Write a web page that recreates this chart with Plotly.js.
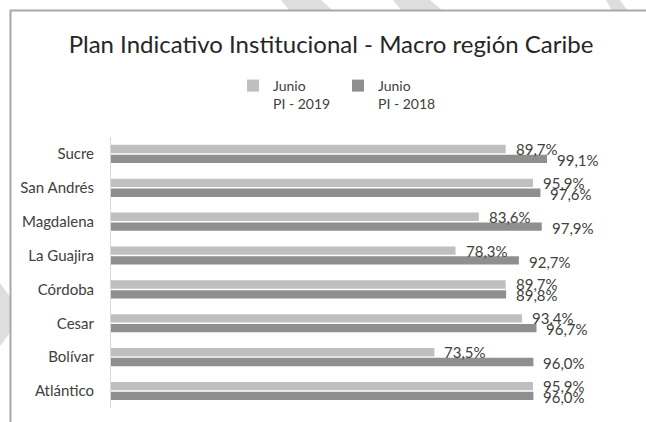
<!DOCTYPE html>
<html>
<head>
<meta charset="utf-8">
<script src="https://cdn.plot.ly/plotly-3.0.1.min.js"></script>
<style>html,body{margin:0;padding:0;background:#fff;}#chart{width:646px;height:422px;}</style>
</head>
<body>
<div id="chart"></div>
<script>
const categories = ["Atlántico", "Bolívar", "Cesar", "Córdoba", "La Guajira", "Magdalena", "San Andrés", "Sucre"];
const pi2019 = [95.9, 73.5, 93.4, 89.7, 78.3, 83.6, 95.9, 89.7];
const pi2018 = [96.0, 96.0, 96.7, 89.8, 92.7, 97.9, 97.6, 99.1];
const seriesNames = ["Junio<br>PI - 2019", "Junio<br>PI - 2018"];
const chartTitle = "Plan Indicativo Institucional - Macro región Caribe";

const W = 646, H = 422;
const px = v => v / W;
const py = v => 1 - v / H;
const FONT = "Lato, 'Liberation Sans', sans-serif";

const traces = [
  {type: "bar", orientation: "h", name: seriesNames[1], y: categories, x: pi2018,
   marker: {color: "#8f8f8f"}, hoverinfo: "none"},
  {type: "bar", orientation: "h", name: seriesNames[0], y: categories, x: pi2019,
   marker: {color: "#bfbfbf"}, hoverinfo: "none"}
];

const fmt = v => v.toFixed(1).replace(".", ",") + "%";
const annotations = [];
categories.forEach((c, i) => {
  annotations.push({x: pi2019[i], y: c, xref: "x", yref: "y", text: fmt(pi2019[i]),
    showarrow: false, xanchor: "left", yanchor: "middle", xshift: 8, yshift: 5,
    font: {family: FONT, size: 15, color: "#404040"}});
  annotations.push({x: pi2018[i], y: c, xref: "x", yref: "y", text: fmt(pi2018[i]),
    showarrow: false, xanchor: "left", yanchor: "middle", xshift: 8, yshift: -6,
    font: {family: FONT, size: 15, color: "#404040"}});
});

const poly = pts => "M" + pts.map(p => px(p[0]) + "," + py(p[1])).join(" L") + " Z";
const stripe = {type: "path", xref: "paper", yref: "paper", fillcolor: "#dedede", line: {width: 0}, layer: "below"};
const shapes = [
  Object.assign({path: poly([[281,0],[321,0],[333,11],[290,11]])}, stripe),
  Object.assign({path: poly([[393,0],[430,0],[443,11],[402,11]])}, stripe),
  Object.assign({path: poly([[606,0],[620,0],[628,11],[612,11]])}, stripe),
  Object.assign({path: poly([[0,283],[10,297],[10,333],[0,346]])}, stripe),
  {type: "path", xref: "paper", yref: "paper",
   path: "M" + px(10.5) + "," + py(423) + " L" + px(10.5) + "," + py(10.5) + " L" + px(647) + "," + py(10.5),
   line: {color: "#a8a8a8", width: 2}}
];

const layout = {
  width: W, height: H,
  margin: {l: 0, r: 0, t: 0, b: 0},
  paper_bgcolor: "#ffffff", plot_bgcolor: "rgba(0,0,0,0)",
  font: {family: FONT, color: "#404040"},
  title: {text: chartTitle, font: {family: FONT, size: 24, color: "#262626"},
          x: px(331), xanchor: "center", y: py(45), yanchor: "middle"},
  barmode: "group", bargap: 0.42, bargroupgap: 0.15,
  showlegend: true,
  legend: {orientation: "h", x: px(338), xanchor: "center", y: py(70), yanchor: "top",
           traceorder: "reversed", valign: "top", itemwidth: 30,
           entrywidth: 60, entrywidthmode: "pixels",
           font: {family: FONT, size: 14, color: "#404040"}, bgcolor: "rgba(0,0,0,0)"},
  xaxis: {domain: [px(111), px(551)], range: [0, 100], visible: false, fixedrange: true},
  yaxis: {domain: [(H - 408) / H, (H - 137) / H], type: "category",
          categoryorder: "array", categoryarray: categories,
          showline: true, linecolor: "#d9d9d9", linewidth: 1, ticks: "",
          showgrid: false, zeroline: false, ticklabelstandoff: 13, automargin: false,
          tickfont: {family: FONT, size: 15, color: "#404040"}, fixedrange: true},
  annotations: annotations,
  shapes: shapes
};

Plotly.newPlot("chart", traces, layout, {displayModeBar: false, staticPlot: true});
</script>
</body>
</html>
